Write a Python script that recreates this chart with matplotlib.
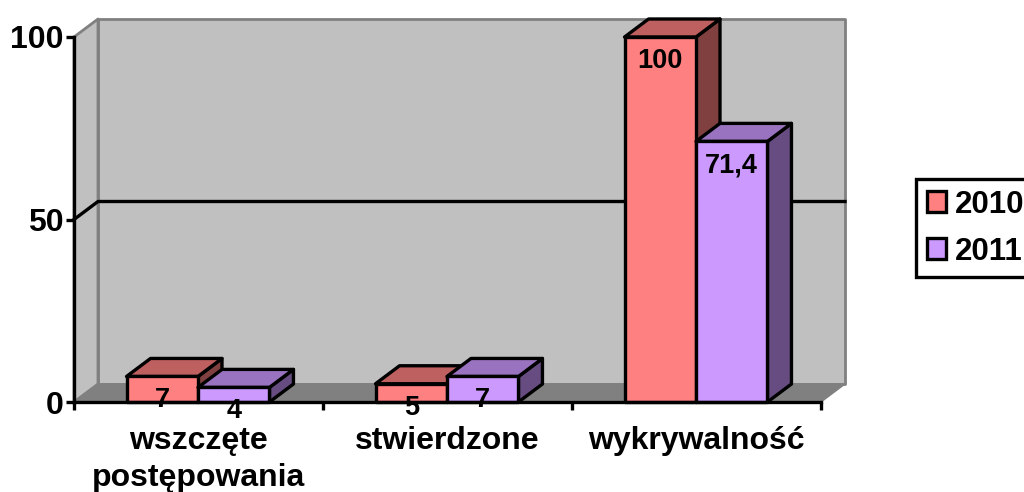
"""Pseudo-3D clustered column chart, wszczete / stwierdzone / wykrywalnosc."""

import matplotlib

matplotlib.use("Agg")

import matplotlib.pyplot as plt
from matplotlib.patches import Patch, Polygon

categories = ["wszczęte\npostępowania", "stwierdzone", "wykrywalność"]
series_names = ["2010", "2011"]
values_2010 = [7, 5, 100]
values_2011 = [4, 7, 71.4]
labels_2010 = ["7", "5", "100"]
labels_2011 = ["4", "7", "71,4"]
y_ticks = [0, 50, 100]

FRONT_COLORS = ["#FF8080", "#CC99FF"]
TOP_COLORS = ["#BF6060", "#9973BF"]
SIDE_COLORS = ["#804040", "#664C80"]

WIDTH, HEIGHT = 1024, 492
LEFT, RIGHT, TOP, BOTTOM = 74, 821, 37, 402
BAR_WIDTH = 0.287
LINE = 2.4
# depth of the fake 3D box, in data units
DX = 24 / ((RIGHT - LEFT) / 3)
DY = 18 / ((BOTTOM - TOP) / 100)

plt.rcParams["font.family"] = ["Liberation Sans", "DejaVu Sans"]
plt.rcParams["font.weight"] = "bold"


def poly(ax, points, face, edge="black", lw=LINE, z=2):
    ax.add_patch(Polygon(points, closed=True, facecolor=face, edgecolor=edge,
                         linewidth=lw, joinstyle="round", clip_on=False, zorder=z))


def draw_bar(ax, left, value, index):
    right = left + BAR_WIDTH
    poly(ax, [(right, 0), (right + DX, DY), (right + DX, value + DY), (right, value)], SIDE_COLORS[index])
    poly(ax, [(left, value), (left + DX, value + DY), (right + DX, value + DY), (right, value)], TOP_COLORS[index])
    poly(ax, [(left, 0), (right, 0), (right, value), (left, value)], FRONT_COLORS[index])


fig = plt.figure(figsize=(WIDTH / 100, HEIGHT / 100), dpi=100)
ax = fig.add_axes([LEFT / WIDTH, 1 - BOTTOM / HEIGHT, (RIGHT - LEFT) / WIDTH, (BOTTOM - TOP) / HEIGHT])
ax.set_xlim(0, len(categories))
ax.set_ylim(0, 100)
ax.patch.set_visible(False)

n = len(categories)
# walls and floor
poly(ax, [(DX, DY), (n + DX, DY), (n + DX, 100 + DY), (DX, 100 + DY)], "#C0C0C0", "#808080", 2.0, 0)
poly(ax, [(0, 0), (DX, DY), (DX, 100 + DY), (0, 100)], "#C0C0C0", "#808080", 2.0, 0)
poly(ax, [(0, 0), (n, 0), (n + DX, DY), (DX, DY)], "#808080", "#808080", 1.0, 0)

# gridline runs along the side wall and the back wall
ax.plot([0, DX, n + DX], [50, 50 + DY, 50 + DY], color="black", lw=LINE, zorder=1, clip_on=False)

for i in range(n):
    left = i + 0.498 - BAR_WIDTH
    draw_bar(ax, left, values_2010[i], 0)
    draw_bar(ax, left + BAR_WIDTH, values_2011[i], 1)

for i in range(n):
    left = i + 0.498 - BAR_WIDTH
    for k, (vals, labs) in enumerate([(values_2010, labels_2010), (values_2011, labels_2011)]):
        ax.annotate(labs[i], (left + BAR_WIDTH * (k + 0.5), vals[i]), xytext=(0, -17.3),
                    textcoords="offset points", ha="center", va="center",
                    fontsize=19.5, fontweight="bold", color="black", zorder=5,
                    annotation_clip=False)

for side in ["top", "right"]:
    ax.spines[side].set_visible(False)
for side in ["left", "bottom"]:
    ax.spines[side].set_linewidth(LINE)
    ax.spines[side].set_zorder(3)

ax.set_yticks(y_ticks)
ax.set_xticks(range(n + 1))
ax.set_xticklabels([])
ax.set_xticks([i + 0.5 for i in range(n)], minor=True)
ax.set_xticklabels(categories, minor=True, fontsize=23, fontweight="bold", linespacing=1.3)
ax.tick_params(axis="x", which="minor", length=0, pad=17)
ax.tick_params(axis="x", which="major", length=5.5, width=LINE)
ax.tick_params(axis="y", length=5.5, width=LINE, pad=2, labelsize=23)

handles = [Patch(facecolor=FRONT_COLORS[j], edgecolor="black", linewidth=LINE) for j in range(2)]
legend = fig.legend(handles, series_names, loc="upper left", bbox_to_anchor=(916 / WIDTH, 1 - 179 / HEIGHT),
                    bbox_transform=fig.transFigure, fontsize=22.5, fancybox=False, framealpha=1,
                    edgecolor="black", borderaxespad=0, handlelength=0.62, handleheight=0.65,
                    handletextpad=0.3, labelspacing=0.55, borderpad=0.34)
legend.get_frame().set_linewidth(LINE)

fig.savefig("out.png", dpi=100)
plt.close(fig)
